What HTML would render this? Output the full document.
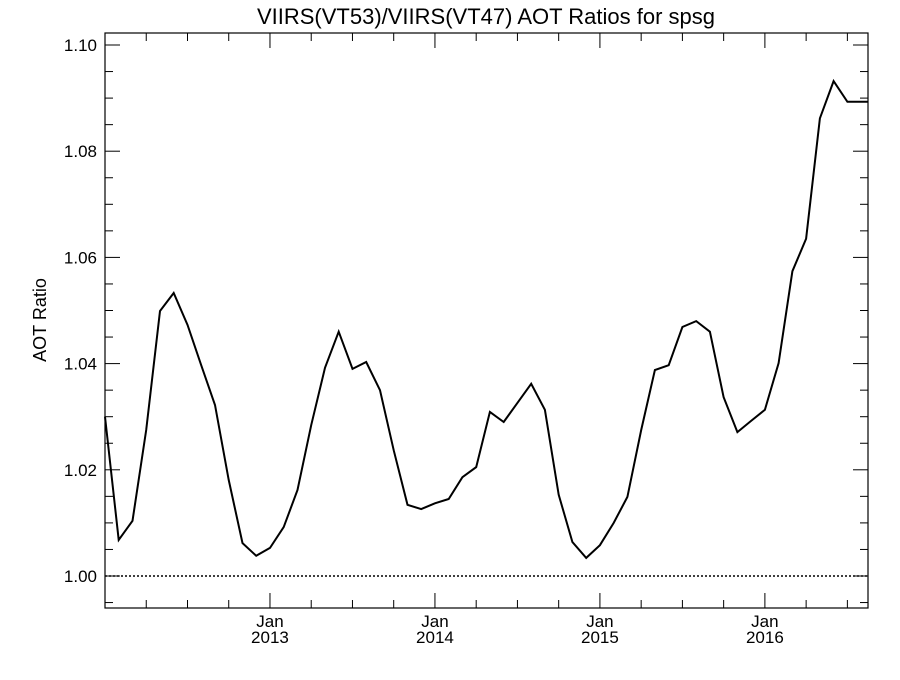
<!DOCTYPE html>
<html><head><meta charset="utf-8"><style>
body{margin:0;background:#fff}
svg text{font-family:"Liberation Sans",sans-serif;fill:#000}
</style></head><body>
<svg id="chart" width="900" height="675" viewBox="0 0 900 675" xmlns="http://www.w3.org/2000/svg">
<text x="486" y="24" font-size="22" text-anchor="middle">VIIRS(VT53)/VIIRS(VT47)  AOT Ratios for spsg</text>
<text transform="translate(46,320) rotate(-90)" font-size="18" text-anchor="middle">AOT Ratio</text>
<g id="axes"></g>
<g id="series"></g>
</svg>
<script>
const values = [1.0300,1.0068,1.0104,1.0275,1.0499,1.0533,1.0473,1.0397,1.0322,1.0181,1.0062,1.0038,1.0053,1.0092,1.0162,1.0284,1.0392,1.0460,1.0390,1.0403,1.0350,1.0237,1.0134,1.0126,1.0137,1.0145,1.0186,1.0205,1.0309,1.0290,1.0326,1.0362,1.0313,1.0153,1.0064,1.0034,1.0058,1.0100,1.0149,1.0275,1.0388,1.0397,1.0469,1.0480,1.0460,1.0337,1.0271,1.0292,1.0313,1.0401,1.0574,1.0635,1.0862,1.0932,1.0893,1.0893];
const yTicks = [1.00,1.02,1.04,1.06,1.08,1.10];
const yTickLabels = ["1.00","1.02","1.04","1.06","1.08","1.10"];
const xTickYears = ["2013","2014","2015","2016"];
const xTickMonths = [12,24,36,48];
const refLine = 1.00;

const L=105,R=868,T=33,B=608;
const NS="http://www.w3.org/2000/svg";
const xM=m=>L+m*(R-L)/55.5;
const yV=v=>576-(v-1.0)*5310;
const ax=document.getElementById('axes'), se=document.getElementById('series');
function mk(tag,attrs,parent){const e=document.createElementNS(NS,tag);for(const k in attrs)e.setAttribute(k,attrs[k]);parent.appendChild(e);return e;}

const frame=mk('rect',{x:L,y:T,width:R-L,height:B-T,fill:'none',stroke:'#000','stroke-width':1.2},ax);



// y minor/major ticks every 0.005
for(let k=0;k<=21;k++){
  const v=0.995+k*0.005; const y=yV(v);
  if(y<T||y>B) continue;
  const major=Math.abs(((v-1)/0.02)-Math.round((v-1)/0.02))<1e-6;
  const len=major?15:8;
  [[L,L+len],[R,R-len]].forEach(p=>{
    const t=mk('line',{x1:p[0],x2:p[1],y1:y,y2:y,stroke:'#000','stroke-width':1},ax);
    
    
  });
}
yTicks.forEach((v,i)=>{
  const t=mk('text',{x:L-8,y:yV(v)+6,'font-size':17,'text-anchor':'end'},ax);
  t.textContent=yTickLabels[i];
  
  
});
// x ticks quarterly
for(let m=3;m<55.5;m+=3){
  const x=xM(m); const major=m%12===0; const len=major?15:8;
  [[B,B-len],[T,T+len]].forEach(p=>{
    const t=mk('line',{x1:x,x2:x,y1:p[0],y2:p[1],stroke:'#000','stroke-width':1},ax);
    
    
  });
}
xTickMonths.forEach((m,i)=>{
  const a=mk('text',{x:xM(m),y:B+19,'font-size':17,'text-anchor':'middle'},ax);a.textContent='Jan';
  
  
  const b=mk('text',{x:xM(m),y:B+35,'font-size':17,'text-anchor':'middle'},ax);b.textContent=xTickYears[i];
  
  
});
const ref=mk('line',{x1:L,x2:R,y1:yV(refLine),y2:yV(refLine),stroke:'#000','stroke-width':1.6,'stroke-dasharray':'2,2'},se);


let pts=values.map((v,i)=>xM(i).toFixed(1)+','+yV(v).toFixed(1));
pts.push(R+','+yV(values[values.length-1]).toFixed(1));
const line=mk('polyline',{points:pts.join(' '),fill:'none',stroke:'#000','stroke-width':2,'stroke-linejoin':'miter'},se);


</script>
</body></html>
